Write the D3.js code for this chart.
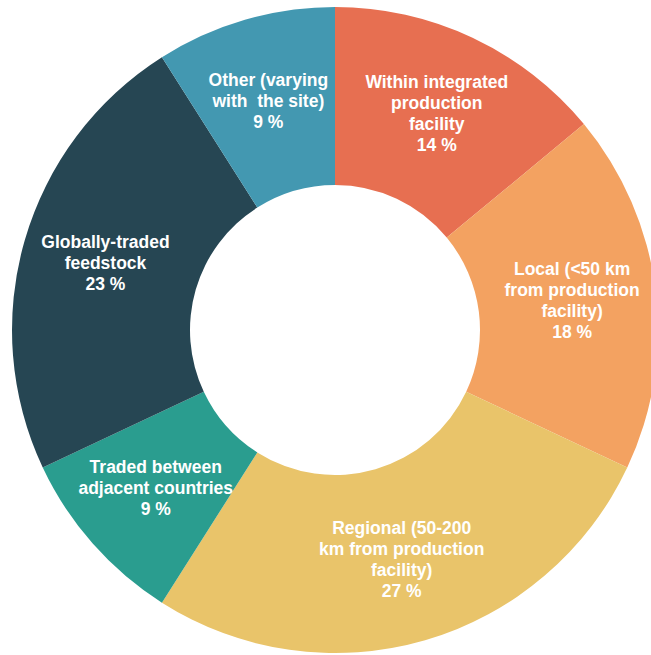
<!DOCTYPE html>
<html><head><meta charset="utf-8">
<script src="https://cdn.jsdelivr.net/npm/d3@7"></script>
<style>body{margin:0;background:#fff;}svg{display:block;}</style>
</head><body>
<script>
const categories = ["Within integrated production facility","Local (<50 km from production facility)","Regional (50-200 km from production facility)","Traded between adjacent countries","Globally-traded feedstock","Other (varying with the site)"];
const labelLines = [["Within integrated","production","facility"],["Local (<50 km","from production","facility)"],["Regional (50-200","km from production","facility)"],["Traded between","adjacent countries"],["Globally-traded","feedstock"],["Other (varying","with  the site)"]];
const values = [14,18,27,9,23,9];
const colors = ["#E76F51","#F3A261","#E9C46A","#2A9D8F","#264653","#4398B1"];

const W=651,H=655,cx=335,cy=330,R=323,r0=145;
const svg=d3.select("body").append("svg").attr("width",W).attr("height",H);
const g=svg.append("g").attr("transform",`translate(${cx},${cy})`);
const pie=d3.pie().sort(null).value(d=>d)(values);
const arc=d3.arc().innerRadius(r0).outerRadius(R);
const labelArc=d3.arc().innerRadius(154).outerRadius(324);
g.selectAll("path").data(pie).join("path").attr("d",arc).attr("fill",(d,i)=>colors[i]);
const lh=21;
pie.forEach((d,i)=>{
  const [x,y]=labelArc.centroid(d);
  const lines=labelLines[i].concat([values[i]+" %"]);
  const t=g.append("text").attr("text-anchor","middle").attr("fill","#fff")
    .style("font-family","'Liberation Sans', Arial, sans-serif").style("font-weight","bold").style("font-size","17.5px")
    .style("white-space","pre");
  const y0=y-(lines.length-1)*lh/2;
  lines.forEach((l,k)=>t.append("tspan").attr("x",x).attr("y",y0+k*lh).attr("dy","0.35em").text(l));
});
</script>
</body></html>
